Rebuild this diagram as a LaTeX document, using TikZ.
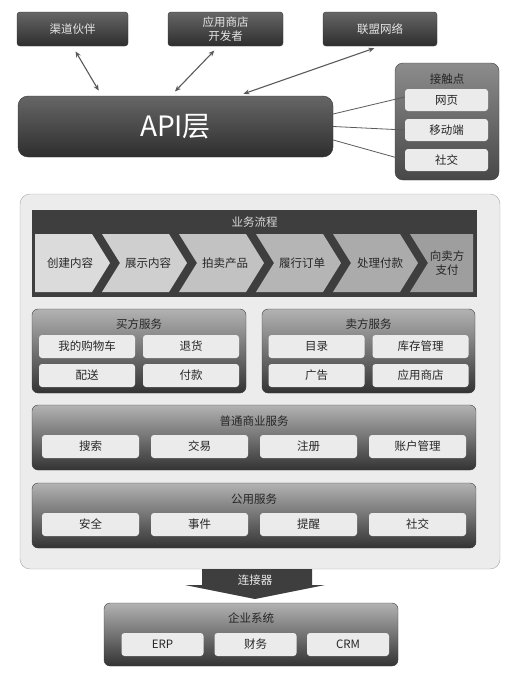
\documentclass[tikz,border=0pt]{standalone}
\usepackage{fontspec}
\setmainfont{Noto Sans CJK SC}
\usetikzlibrary{positioning, arrows.meta}

\definecolor{darkfill}{HTML}{3E3E3E}
\definecolor{itemfill}{HTML}{EBEBEB}
\definecolor{pagefill}{HTML}{ECECEC}
\definecolor{linegray}{HTML}{5A5A5A}

\tikzset{
  lbl/.style={font=\fontsize{11.5}{13.5}\selectfont},
  darkbox/.style={lbl, rounded corners=3pt, top color=black!60, bottom color=black!82, draw=black!80, text=white!90!black, align=center, inner sep=0pt},
  panel/.style={rounded corners=6pt, top color=black!30, bottom color=black!80, draw=black!75, inner sep=0pt},
  itembox/.style={lbl, rounded corners=3pt, fill=itemfill, text=black!85, inner sep=0pt, minimum height=23pt},
  biarrow/.style={{Stealth[length=6pt,width=5pt]}-{Stealth[length=6pt,width=5pt]}, line width=1.1pt, draw=linegray, shorten <=6pt, shorten >=6pt},
  tieline/.style={line width=0.8pt, draw=linegray},
}

\begin{document}
\begin{tikzpicture}[x=1pt, y=-1pt]
    \useasboundingbox (0,0) rectangle (518,680);

    % Partners on top
    \node[darkbox, minimum width=111pt, minimum height=34pt] (qd) at (72.5,29) {渠道伙伴};
    \node[darkbox, minimum width=115pt, minimum height=34pt] (app) at (225.5,29) {应用商店\\开发者};
    \node[darkbox, minimum width=114pt, minimum height=34pt] (lm) at (380,29) {联盟网络};

    % API layer
    \node[darkbox, rounded corners=10pt, minimum width=315pt, minimum height=61pt,
          font=\fontsize{28}{30}\selectfont, text=white] (api) at (175.5,126.5) {API层};

    % Touch points
    \node[panel, rounded corners=8pt, top color=black!45, bottom color=black!72, minimum width=104pt, minimum height=117pt] (touch) at (447,121.5) {};
    \node[lbl, text=black!85] (toucht) at ([yshift=-16pt]touch.north) {接触点};
    \foreach \n/\y/\t in {web/100/网页, mob/130/移动端, soc/160/社交}{
      \node[itembox, minimum width=83pt, minimum height=22pt] (\n) at (446.5,\y) {\t};
    }

    % Connections to API
    \draw[biarrow] (qd.south) -- ([xshift=84pt]api.north west);
    \draw[biarrow] ([xshift=-7pt]app.south) -- ([xshift=153pt]api.north west);
    \draw[biarrow] (lm.south) -- ([xshift=220pt]api.north west);
    \draw[tieline] ([yshift=12.5pt]api.east) -- ([yshift=3pt]web.west);
    \draw[tieline] (api.east) -- (mob.west);
    \draw[tieline] ([yshift=-13.5pt]api.east) -- (soc.west);

    % Platform container
    \node[rounded corners=10pt, fill=pagefill, draw=black!35, minimum width=480pt, minimum height=375pt] (plat) at (260,381.5) {};

    % Business flow
    \fill[darkfill] (32,210) rectangle (477,297);
    \node[lbl, text=white!85!black] (flow) at (254.5,222) {业务流程};
    \fill[black!14] (35,234) -- (92,234) -- (110,263) -- (92,292) -- (35,292) -- cycle;
    \foreach \i/\s in {1/19,2/24,3/29,4/33}{
      \pgfmathsetmacro{\a}{25+77*\i}
      \pgfmathsetmacro{\b}{92+77*\i}
      \fill[black!\s] (\a,234) -- (\b,234) -- (\b+18,263) -- (\b,292) -- (\a,292) -- (\a+18,263) -- cycle;
    }
    \fill[black!38] (410,234) -- (473,234) -- (473,292) -- (410,292) -- (428,263) -- cycle;
    \foreach \n/\x/\t in {c1/70/创建内容, c2/148/展示内容, c3/225/拍卖产品, c4/302/履行订单, c5/380/处理付款, c6/447/向卖方\\支付}{
      \node[lbl, text=black!85, align=center] (\n) at (\x,263) {\t};
    }

    % Buyer and seller services
    \node[panel, minimum width=214pt, minimum height=84pt] (buy) at (139,351) {};
    \node[lbl, text=black!85] (buyt) at ([yshift=-15pt]buy.north) {买方服务};
    \node[panel, minimum width=213pt, minimum height=84pt] (sell) at (368.5,351) {};
    \node[lbl, text=black!85] (sellt) at ([yshift=-15pt]sell.north) {卖方服务};
    \foreach \n/\x/\y/\t in {b1/87/346.5/我的购物车, b2/191/346.5/退货, b3/87/375.5/配送, b4/191/375.5/付款,
                             s1/316.5/346.5/目录, s2/420.5/346.5/库存管理, s3/316.5/375.5/广告, s4/420.5/375.5/应用商店}{
      \node[itembox, minimum width=96pt] (\n) at (\x,\y) {\t};
    }

    % Common business services
    \node[panel, minimum width=444pt, minimum height=65pt] (gen) at (254,437.5) {};
    \node[lbl, text=black!85] (gent) at ([yshift=-16pt]gen.north) {普通商业服务};
    \foreach \n/\x/\t in {g1/90.5/搜索, g2/199.5/交易, g3/308.5/注册, g4/417.5/账户管理}{
      \node[itembox, minimum width=97pt] (\n) at (\x,446.5) {\t};
    }

    % Shared services
    \node[panel, minimum width=444pt, minimum height=65pt] (pub) at (254,515.5) {};
    \node[lbl, text=black!85] (pubt) at ([yshift=-16pt]pub.north) {公用服务};
    \foreach \n/\x/\t in {p1/90.5/安全, p2/199.5/事件, p3/308.5/提醒, p4/417.5/社交}{
      \node[itembox, minimum width=97pt] (\n) at (\x,524.5) {\t};
    }

    % Connector
    \fill[darkfill] (202,569) -- (312,569) -- (312,585) -- (325,585) -- (255,599) -- (185,585) -- (202,585) -- cycle;
    \node[lbl, text=white!92!black] (conn) at (255,580) {连接器};

    % Enterprise systems
    \node[panel, minimum width=294pt, minimum height=63pt] (ent) at (251,634.5) {};
    \node[lbl, text=black!85] (entt) at ([yshift=-15pt]ent.north) {企业系统};
    \foreach \n/\x/\t in {e1/162.5/ERP, e2/255.5/财务, e3/348/CRM}{
      \node[itembox, minimum width=82pt] (\n) at (\x,644.5) {\t};
    }

\end{tikzpicture}
\end{document}
